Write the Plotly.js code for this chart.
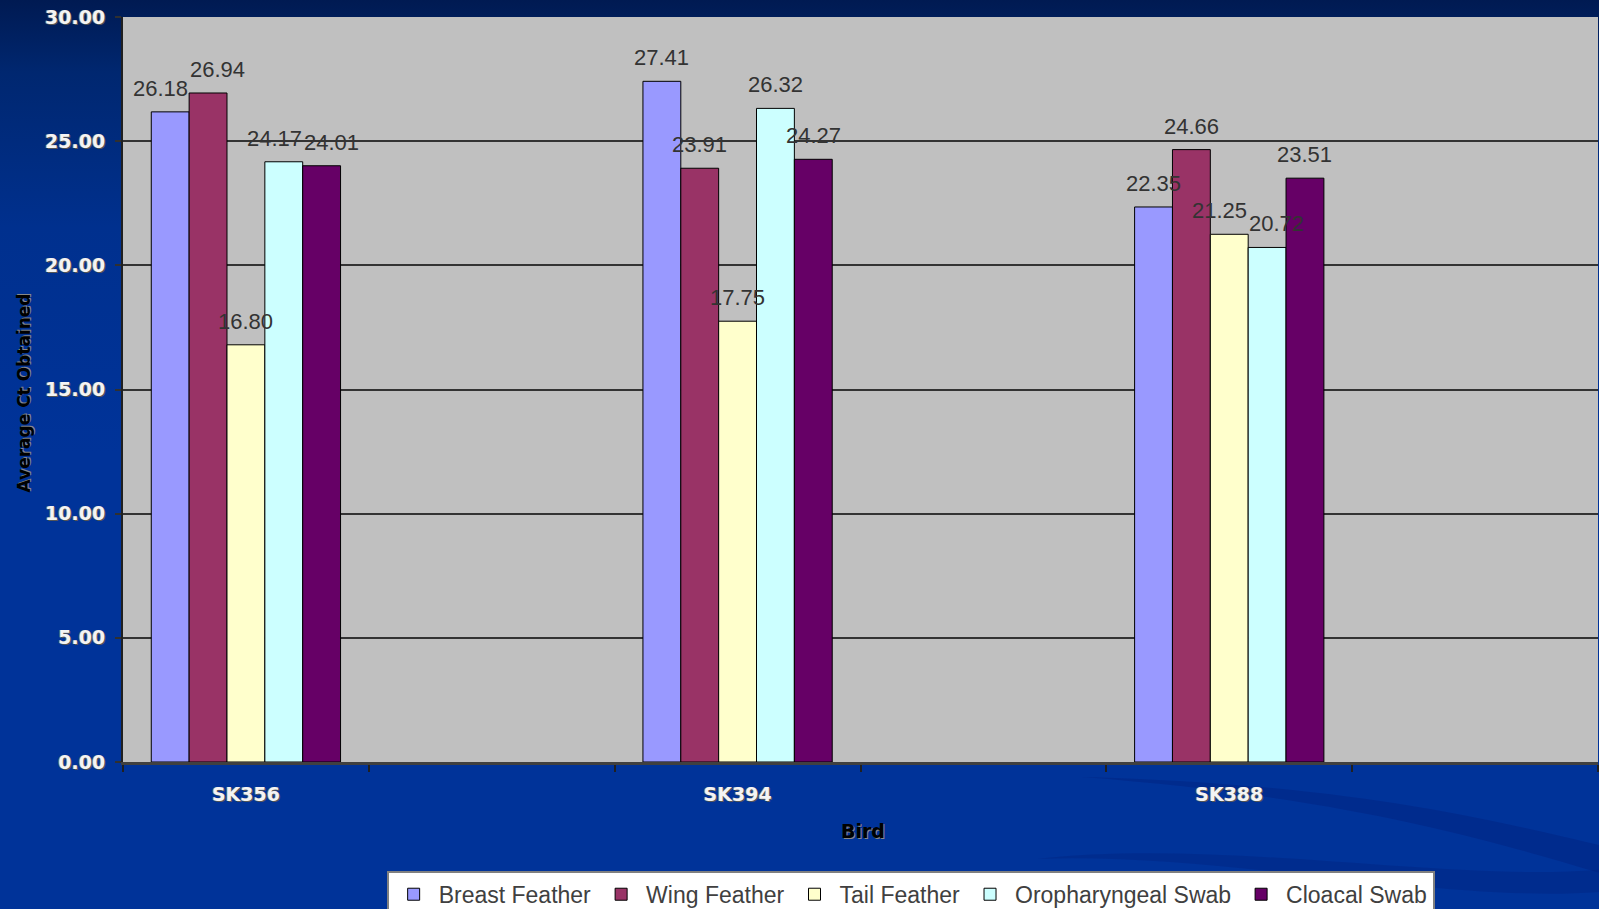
<!DOCTYPE html>
<html>
<head>
<meta charset="utf-8">
<script src="https://cdn.plot.ly/plotly-3.0.1.min.js"></script>
<style>
html,body{margin:0;padding:0;width:1599px;height:909px;overflow:hidden;}
body{background:linear-gradient(180deg,#001a52 0%,#002770 8%,#00308e 25%,#003399 50%,#003399 100%);}
#chart{width:1599px;height:909px;}
</style>
</head>
<body>
<div id="chart"></div>
<script>
const birds = ["SK356", "SK394", "SK388"];
const birdPos = [0, 2, 4];
const seriesNames = ["Breast Feather", "Wing Feather", "Tail Feather", "Oropharyngeal Swab", "Cloacal Swab"];
const breastFeather = [26.18, 27.41, 22.35];
const wingFeather = [26.94, 23.91, 24.66];
const tailFeather = [16.80, 17.75, 21.25];
const oropharyngealSwab = [24.17, 26.32, 20.72];
const cloacalSwab = [24.01, 24.27, 23.51];
const seriesValues = [breastFeather, wingFeather, tailFeather, oropharyngealSwab, cloacalSwab];
const colors = ["#9999FF", "#993366", "#FFFFCC", "#CCFFFF", "#660066"];

const BARGAP = 0.615;
const YMAX = 30;
const PLOT_W = 1599 - 123 - 1, PLOT_H = 909 - 17 - 147;
const XRANGE = [-0.5, 5.5];

const traces = seriesNames.map((name, i) => ({
  type: "bar",
  name: name,
  x: birdPos,
  y: seriesValues[i],
  marker: {color: colors[i], line: {color: "#000000", width: 1}},
  hoverinfo: "x+y"
}));

// Data labels as annotations anchored at each bar top, spread apart when they would collide
const nS = seriesNames.length;
const slot = 2; // spacing between bird positions
const barW = slot * (1 - BARGAP) / nS;
const pxPerX = PLOT_W / (XRANGE[1] - XRANGE[0]);
const pxPerY = PLOT_H / YMAX;
const labelFontSize = 22;
const labelW = labelFontSize * 2.5 + 2;
const labelH = 24;
const annotations = [];
birdPos.forEach((pos, g) => {
  const labs = seriesValues.map((vals, s) => ({
    x: pos + (s - (nS - 1) / 2) * barW,
    v: vals[g],
    cx: (s - (nS - 1) / 2) * barW * pxPerX,
    cy: vals[g] * pxPerY,
    shift: 0
  }));
  for (let it = 0; it < 20; it++) {
    for (let s = 0; s < nS - 1; s++) {
      const a = labs[s], b = labs[s + 1];
      if (Math.abs(a.cy - b.cy) < labelH) {
        const gap = (b.cx + b.shift) - (a.cx + a.shift);
        const need = labelW - gap;
        if (need > 0.5) { a.shift -= need / 2; b.shift += need / 2; }
      }
    }
  }
  labs.forEach(l => annotations.push({
    text: l.v.toFixed(2), xref: "x", yref: "y", x: l.x, y: l.v,
    xanchor: "center", yanchor: "bottom", xshift: l.shift, yshift: 9,
    showarrow: false,
    font: {family: "Liberation Sans, Arial, sans-serif", size: labelFontSize, color: "#333333"}
  }));
});

const titleFont = {family: "DejaVu Sans, sans-serif", color: "#000000", weight: "bold", shadow: "1px 1px 0px #888888"};
annotations.push(
  {text: "Average Ct Obtained", xref: "paper", yref: "paper", x: 0, y: 0.5, xshift: -100, yshift: -4,
   xanchor: "center", yanchor: "middle", textangle: -90, showarrow: false,
   font: Object.assign({size: 17}, titleFont)},
  {text: "Bird", xref: "paper", yref: "paper", x: 0.5, y: 0, xshift: 2, yshift: -69,
   xanchor: "center", yanchor: "middle", showarrow: false,
   font: Object.assign({size: 19}, titleFont)}
);

const tickFont = {family: "DejaVu Sans, sans-serif", size: 19, color: "#f4f4f4", weight: "bold", shadow: "1px 1px 0px #555555, -1px 0px 0px #777777"};

const layout = {
  width: 1599, height: 909,
  paper_bgcolor: "rgba(0,0,0,0)",
  plot_bgcolor: "#C0C0C0",
  margin: {l: 123, r: 1, t: 17, b: 147, autoexpand: false},
  barmode: "group",
  bargap: BARGAP,
  bargroupgap: 0,
  showlegend: true,
  legend: {
    orientation: "h",
    x: 0.534, xanchor: "center",
    y: -0.146, yanchor: "top",
    bgcolor: "#FFFFFF",
    bordercolor: "#808080",
    borderwidth: 2,
    font: {family: "Liberation Sans, Arial, sans-serif", size: 23, color: "#404040"},
    traceorder: "normal",
    itemwidth: 40
  },
  xaxis: {
    range: XRANGE,
    tickvals: birdPos,
    ticktext: birds,
    ticks: "",
    ticklabelstandoff: 13,
    showgrid: false,
    zeroline: false,
    showline: true,
    linecolor: "#404040",
    linewidth: 3,
    tickfont: tickFont,
    minor: {tick0: 0.5, dtick: 1, ticks: "outside", ticklen: 7, tickcolor: "#202020", tickwidth: 2, showgrid: false},
    fixedrange: true
  },
  yaxis: {
    range: [0, YMAX],
    dtick: 5,
    tickformat: ".2f",
    ticks: "outside",
    ticklen: 6,
    tickwidth: 2,
    tickcolor: "#303030",
    ticklabelstandoff: 6,
    showgrid: true,
    gridcolor: "#333333",
    gridwidth: 2,
    zeroline: false,
    showline: true,
    linecolor: "#202020",
    linewidth: 2,
    tickfont: tickFont,
    fixedrange: true
  },
  annotations: annotations,
  shapes: [
    {type: "path", xref: "paper", yref: "paper", layer: "below",
     path: "M 0.65 -0.02 C 0.85 -0.05, 0.95 -0.12, 1.02 -0.16 L 1.02 -0.12 C 0.95 -0.09, 0.85 -0.03, 0.65 -0.02 Z",
     fillcolor: "rgba(0,30,120,0.35)", line: {width: 0}},
    {type: "path", xref: "paper", yref: "paper", layer: "below",
     path: "M 0.62 -0.13 C 0.75 -0.12, 0.92 -0.2, 1.02 -0.17 L 1.02 -0.14 C 0.92 -0.17, 0.75 -0.1, 0.62 -0.13 Z",
     fillcolor: "rgba(0,30,120,0.3)", line: {width: 0}}
  ]
};

Plotly.newPlot("chart", traces, layout, {displayModeBar: false, staticPlot: true});
</script>
</body>
</html>
